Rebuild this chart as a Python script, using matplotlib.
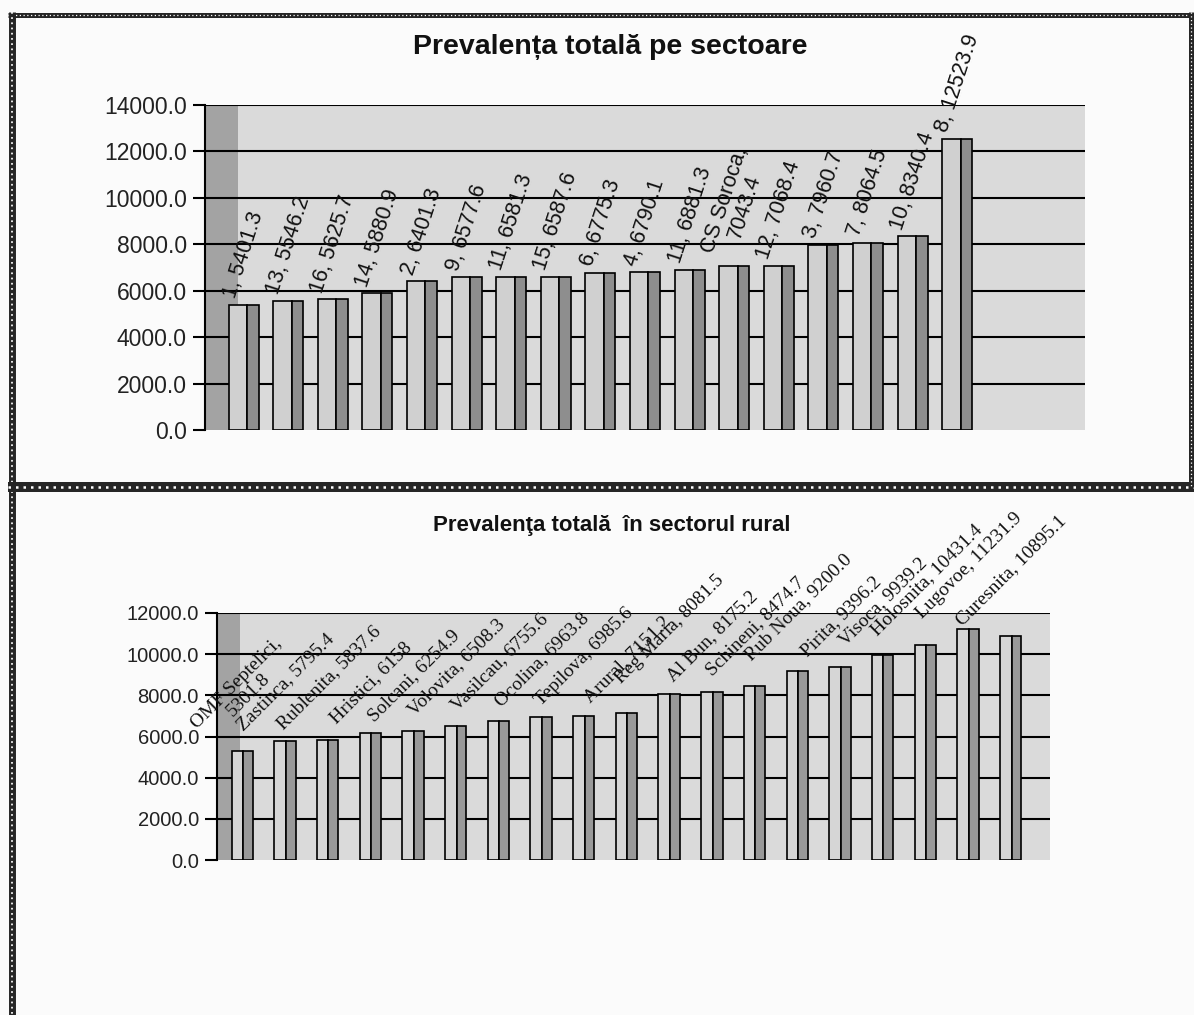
import matplotlib
matplotlib.use("Agg")
import matplotlib.pyplot as plt
from matplotlib.lines import Line2D

# chart 1 - total prevalence per sector
top_title = "Prevalența totală pe sectoare"
top_sectors = ["1", "13", "16", "14", "2", "9", "11", "15", "6", "4", "11",
               "CS Soroca", "12", "3", "7", "10", "8"]
top_values = [5401.3, 5546.2, 5625.7, 5880.9, 6401.3, 6577.6, 6581.3, 6587.6,
              6775.3, 6790.1, 6881.3, 7043.4, 7068.4, 7960.7, 8064.5, 8340.4,
              12523.9]
top_ticks = [0, 2000, 4000, 6000, 8000, 10000, 12000, 14000]

# chart 2 - total prevalence in the rural sector
rural_title = "Prevalenţa totală  în sectorul rural"
rural_names = ["OMF Septelici", "Zastinca", "Rublenita", "Hristici", "Solcani",
               "Volovita", "Vasilcau", "Ocolina", "Tepilova", "Arural",
               "Reg Maria", "Al Bun", "Schineni", "Rub Noua", "Pirita",
               "Visoca", "Holosnita", "Lugovoe", "Curesnita"]
rural_values = [5301.8, 5795.4, 5837.6, 6158, 6254.9, 6508.3, 6755.6, 6963.8,
                6985.6, 7151.2, 8081.5, 8175.2, 8474.7, 9200.0, 9396.2, 9939.2,
                10431.4, 11231.9, 10895.1]
rural_ticks = [0, 2000, 4000, 6000, 8000, 10000, 12000]

wrapped = ["CS Soroca", "OMF Septelici"]

W, H = 1194, 1015


def value_text(v):
    return str(v) if isinstance(v, int) else f"{v:.1f}"


def label_text(name, v):
    sep = ",\n" if name in wrapped else ", "
    return name + sep + value_text(v)


def draw_panel(ax, names, values, ticks, xlim, wall_right, front, side,
               tick_size, label_kw, front_color, side_color):
    ax.set_xlim(*xlim)
    ax.set_ylim(ticks[0], ticks[-1])
    ax.set_facecolor("#dadada")
    ax.axvspan(xlim[0], wall_right, color="#a3a3a3", zorder=0.5, lw=0)
    for t in ticks[1:]:
        ax.axhline(t, color="black", lw=1.5, zorder=1)

    x = list(range(len(values)))
    ax.bar([i + front[0] for i in x], values, width=front[1], align="edge",
           color=front_color, edgecolor="black", lw=1.2, zorder=3)
    ax.bar([i + side[0] for i in x], values, width=side[1], align="edge",
           color=side_color, edgecolor="black", lw=1.2, zorder=3)

    for i, (n, v) in enumerate(zip(names, values)):
        ax.annotate(label_text(n, v), (i, v), textcoords="offset points",
                    annotation_clip=False, zorder=5, **label_kw)

    for s in ["top", "right", "bottom"]:
        ax.spines[s].set_visible(False)
    ax.spines["left"].set_linewidth(1.5)
    ax.set_xticks([])
    ax.set_yticks(ticks)
    ax.set_yticklabels([f"{t:.1f}" for t in ticks], fontsize=tick_size,
                       family="Liberation Sans", color="#222222")
    ax.tick_params(axis="y", length=9, width=1.5, pad=4)


fig = plt.figure(figsize=(W / 100, H / 100), dpi=100)
fig.patch.set_facecolor("#fbfbfb")

ax1 = fig.add_axes([205 / W, 1 - 430 / H, 880 / W, 325 / H])
draw_panel(ax1, top_sectors, top_values, top_ticks, (-0.87, 18.86), -0.13,
           (-0.34, 0.41), (0.07, 0.26), 16.5,
           dict(xytext=(0, 3), rotation=72, ha="center", va="bottom",
                fontsize=15.5, family="Liberation Sans", color="#111111",
                linespacing=1.0),
           "#d0d0d0", "#8e8e8e")
fig.text(610 / W, 1 - 47 / H, top_title, ha="center", va="center",
         fontsize=20.5, fontweight="bold", family="Liberation Sans",
         color="#111111")

ax2 = fig.add_axes([217 / W, 1 - 860 / H, 833 / W, 247 / H])
draw_panel(ax2, rural_names, rural_values, rural_ticks, (-0.61, 18.9), -0.07,
           (-0.27, 0.27), (0.0, 0.23), 14.5,
           dict(xytext=(0, 5), rotation=45, ha="center", va="bottom",
                fontsize=14, family="Liberation Serif", color="#111111",
                linespacing=1.0),
           "#d6d6d6", "#999999")
fig.text(612 / W, 1 - 525 / H, rural_title, ha="center", va="center",
         fontsize=16, fontweight="bold",
         family=["Liberation Sans Narrow", "Liberation Sans"],
         color="#111111")


# checkered frame borders of the scanned page
def border(x0, y0, x1, y1, lw):
    xs = [x0 / W, x1 / W]
    ys = [1 - y0 / H, 1 - y1 / H]
    fig.add_artist(Line2D(xs, ys, color="#262626", lw=lw,
                          transform=fig.transFigure, solid_capstyle="butt"))
    fig.add_artist(Line2D(xs, ys, color="white", lw=lw * 0.25,
                          dashes=(1, 2), transform=fig.transFigure))


border(8, 14.5, 1194, 14.5, 3.6)
border(11.5, 12, 11.5, 1015, 5)
border(8, 487, 1194, 487, 7.2)
border(1191, 12, 1191, 487, 3.6)

fig.savefig("out.png", dpi=100, facecolor=fig.get_facecolor())
